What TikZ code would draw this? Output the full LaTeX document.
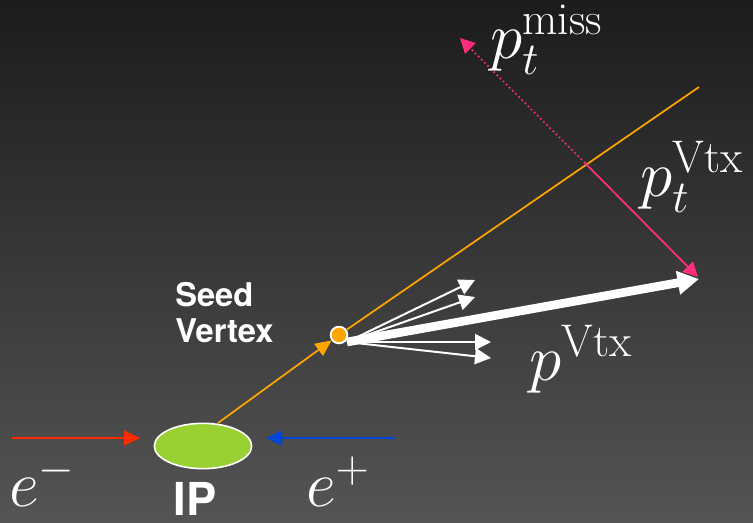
\RequirePackage{fix-cm}
\documentclass[tikz,border=0pt]{standalone}
\usepackage{fontspec}
\newfontfamily\hv{TeX Gyre Heros}
\usetikzlibrary{arrows.meta,shapes.geometric}
\definecolor{bgtop}{HTML}{1C1C1C}
\definecolor{bgbot}{HTML}{545454}
\definecolor{trk}{HTML}{FFA500}
\definecolor{elec}{HTML}{FF2A00}
\definecolor{posi}{HTML}{0046D8}
\definecolor{ipgreen}{HTML}{99D133}
\definecolor{pinkv}{HTML}{FF2D7A}
\tikzset{
  thinarrow/.style={draw=white, line width=1.5pt, -{Triangle[length=12pt,width=12pt]}},
  thickarrow/.style={draw=white, line width=6.5pt, -{Triangle[length=16pt,width=17pt]}},
  beam/.style={line width=1.5pt, -{Triangle[length=12pt,width=11pt]}},
  pinkline/.style={draw=pinkv, line width=1.3pt, -{Triangle[length=11pt,width=11pt]}},
  mathlabel/.style={text=white, inner sep=0pt, font=\fontsize{49}{52}\selectfont},
}
\begin{document}
\begin{tikzpicture}[x=0.75pt,y=-0.75pt]
\shade[top color=bgtop, bottom color=bgbot] (0,0) rectangle (753,522);
\useasboundingbox (0,0) rectangle (753,522);

% coordinates
\coordinate (ebeg) at (12,438);
\coordinate (eend) at (140,438);
\coordinate (pbeg) at (395,438);
\coordinate (pend) at (266,438);
\coordinate (oend) at (699,87);
\coordinate (vs) at (347,342);
\coordinate (t1) at (475,280);
\coordinate (t2) at (475,297);
\coordinate (t3) at (491,342);
\coordinate (t4) at (491,358);
\coordinate (pv) at (699,279);
\coordinate (pm) at (460,38);
\coordinate (pc) at (585,163);
\coordinate (pe) at (698,277);

% IP ellipse
\node[ellipse, draw=white, line width=1.2pt, fill=ipgreen, minimum width=73pt, minimum height=34pt, inner sep=0pt] (ip) at (203,446) {};
\coordinate (ipo) at (218,423);

% beams
\draw[beam, draw=elec, fill=elec] (ebeg) -- (eend);
\draw[beam, draw=posi, fill=posi] (pbeg) -- (pend);

% vertex
\node[circle, draw=white, line width=1.4pt, fill=trk, minimum size=12.5pt, inner sep=0pt] (v) at (339,335) {};

% orange track
\draw[draw=trk, line width=1.3pt, -{Triangle[length=12pt,width=11pt]}] (ipo) -- (v);
\draw[draw=trk, line width=1.3pt] (v) -- (oend);

% thin white tracks
\draw[thinarrow] (vs) -- (t1);
\draw[thinarrow] (vs) -- (t2);
\draw[thinarrow] (vs) -- (t3);
\draw[thinarrow] (vs) -- (t4);

% thick vertex momentum
\draw[thickarrow] (vs) -- (pv);

% pink components
\draw[pinkline] (pc) -- (pe);
\draw[pinkline, dotted] (pc) -- (pm);

% labels
\node[mathlabel, anchor=base west] (lmiss) at (490,58) {$p_t^{\mathrm{miss}}$};
\node[mathlabel, anchor=base west] (lptv) at (640,196) {$p_t^{\mathrm{Vtx}}$};
\node[mathlabel, anchor=base west] (lpv) at (529,380) {$p^{\mathrm{Vtx}}$};
\node[mathlabel, anchor=base west] (lem) at (9,506) {$e^{-}$};
\node[mathlabel, anchor=base west] (lep) at (306,506) {$e^{+}$};
\node[text=white, inner sep=0pt, anchor=base, font=\hv\bfseries\fontsize{34}{40}\selectfont] (lip) at (195,515) {IP};
\node[text=white, inner sep=0pt, anchor=north west, align=left, font=\hv\bfseries\fontsize{24.5}{27}\selectfont] (lseed) at (175,282) {Seed\\Vertex};
\end{tikzpicture}
\end{document}
